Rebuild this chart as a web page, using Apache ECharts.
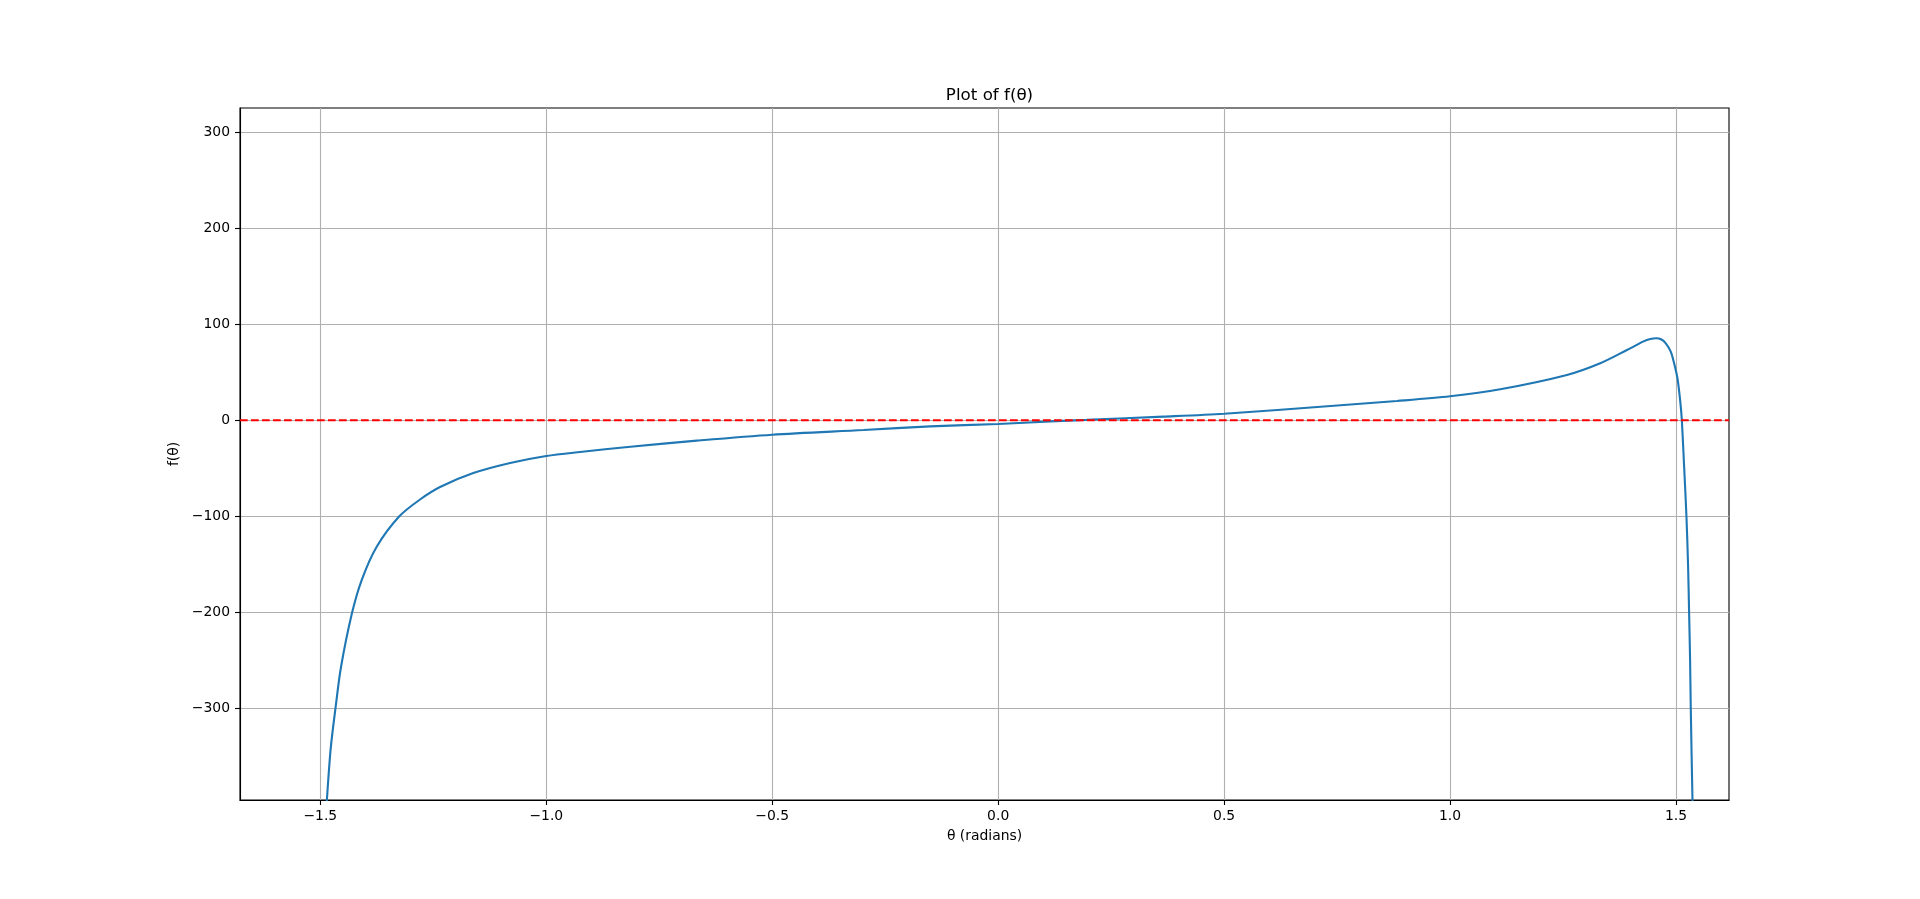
<!DOCTYPE html>
<html>
<head>
<meta charset="utf-8">
<script src="https://cdn.jsdelivr.net/npm/echarts@6/dist/echarts.min.js"></script>
<style>html,body{margin:0;padding:0;background:#fff;}#c{width:1920px;height:899px;}</style>
</head>
<body>
<div id="c"></div>
<script>
const thetaValues = [-1.492, -1.4859, -1.4771, -1.4660, -1.4543, -1.4306, -1.4085, -1.3753, -1.3252, -1.2794, -1.2351, -1.1615, -1.0800, -1.0, -0.9253, -0.8138, -0.667, -0.5, -0.298, -0.1506, 0.0, 0.1151, 0.196, 0.3659, 0.5, 0.7358, 0.8824, 1.0, 1.1111, 1.2586, 1.3324, 1.3915, 1.4283, 1.4431, 1.4564, 1.4668, 1.4774, 1.4884, 1.4958, 1.5033, 1.5091, 1.5128, 1.5180, 1.5231, 1.5268, 1.5290, 1.5312, 1.5327, 1.5365, 1.5385];
const fValues = [-445, -398, -342, -298, -257, -202, -166.4, -131.7, -100, -82.5, -69.5, -55, -44.5, -37.2, -33.0, -27.5, -21.2, -15.0, -10.1, -6.3, -3.85, -1.1, 0.4, 3.8, 6.9, 14.9, 20.1, 25.0, 32.3, 47.2, 59.4, 73.2, 82.2, 84.6, 85.4, 84.4, 80.2, 71.5, 59.4, 43.7, 21.1, 1, -48.3, -99.7, -152.5, -200, -249.7, -299.7, -395.5, -430];
const zeroLineX = [-1.6778, 1.6173];
const zeroLineY = [0, 0];
const xTicks = [-1.5, -1.0, -0.5, 0.0, 0.5, 1.0, 1.5];
const yTicks = [-300, -200, -100, 0, 100, 200, 300];
const xRange = [-1.6778, 1.6173];
const yRange = [-395.5, 325.3];
const titleText = 'Plot of f(θ)';
const xName = 'θ (radians)';
const yName = 'f(θ)';

const font = 'DejaVu Sans';
const fmtX = v => { const s = (Math.round(v*10)/10).toFixed(1); return s.replace('-', '\u2212'); };
const fmtY = v => String(Math.round(v)).replace('-', '\u2212');

const chart = echarts.init(document.getElementById('c'), null, {renderer: 'canvas'});
chart.setOption({
  backgroundColor: '#fff',
  animation: false,
  title: {
    text: titleText, left: 984.5, top: 82, textAlign: 'center',
    textStyle: {fontFamily: font, fontSize: 16.7, fontWeight: 'normal', color: '#000'}
  },
  grid: {left: 240, right: 191, top: 108, bottom: 99, show: true, borderColor: '#000', borderWidth: 1.1, backgroundColor: 'transparent'},
  xAxis: {
    type: 'value', min: xRange[0], max: xRange[1],
    name: xName, nameLocation: 'middle', nameGap: 29,
    nameTextStyle: {fontFamily: font, fontSize: 13.9, color: '#000'},
    axisLine: {show: true, onZero: false, lineStyle: {color: '#000', width: 1.1}},
    axisTick: {show: true, inside: false, length: 5, customValues: xTicks, lineStyle: {color: '#000', width: 1.1}},
    axisLabel: {show: true, margin: 9, customValues: xTicks, formatter: fmtX, fontFamily: font, fontSize: 13.9, color: '#000'},
    splitLine: {show: true, lineStyle: {color: '#b0b0b0', width: 1.1}}
  },
  yAxis: {
    type: 'value', min: yRange[0], max: yRange[1],
    name: yName, nameLocation: 'middle', nameGap: 55, nameRotate: 90,
    nameTextStyle: {fontFamily: font, fontSize: 13.9, color: '#000'},
    axisLine: {show: true, onZero: false, lineStyle: {color: '#000', width: 1.1}},
    axisTick: {show: true, inside: false, length: 5, customValues: yTicks, lineStyle: {color: '#000', width: 1.1}},
    axisLabel: {show: true, margin: 10, customValues: yTicks, formatter: fmtY, fontFamily: font, fontSize: 13.9, color: '#000'},
    splitLine: {show: true, lineStyle: {color: '#b0b0b0', width: 1.1}}
  },
  series: [
    {
      type: 'line', data: thetaValues.map((t, i) => [t, fValues[i]]),
      showSymbol: false, symbol: 'none', smooth: 0.3, clip: true,
      lineStyle: {color: '#1f77b4', width: 2.1}, z: 3
    },
    {
      type: 'line', data: zeroLineX.map((t, i) => [t, zeroLineY[i]]),
      showSymbol: false, symbol: 'none', clip: true,
      lineStyle: {color: '#ff0000', width: 2.1, type: [7.7, 3.3]}, z: 4
    }
  ]
});
</script>
</body>
</html>
